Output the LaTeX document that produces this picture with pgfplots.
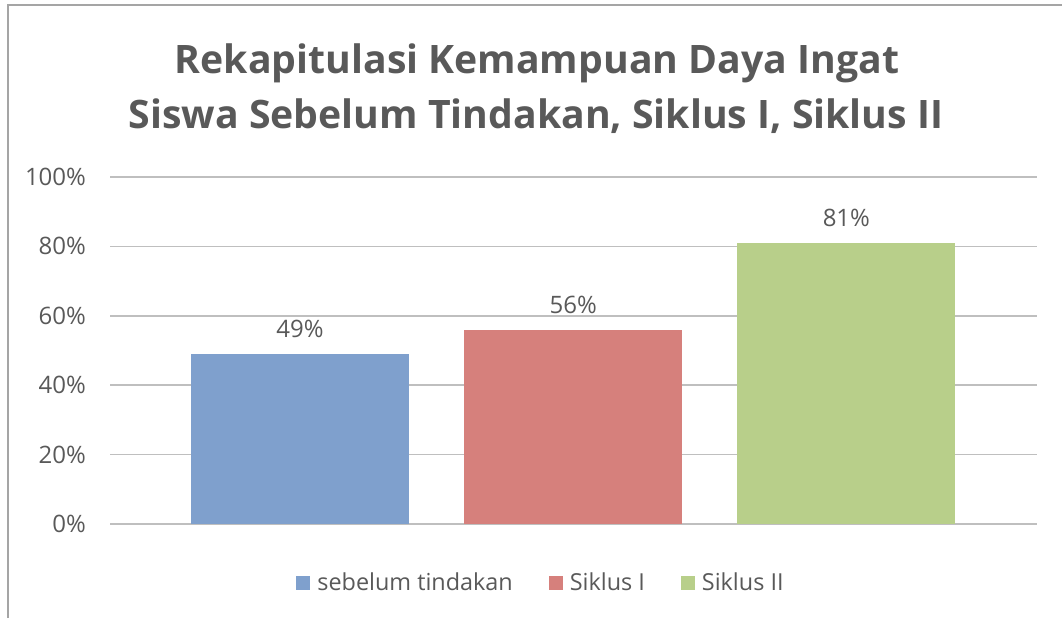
\documentclass[border=0pt]{standalone}
\usepackage{pgfplots}
\pgfplotsset{compat=1.18}
\usepackage{fontspec}
\setmainfont{Open Sans}
\definecolor{txt}{RGB}{89,89,89}
\definecolor{grid}{RGB}{191,191,191}
\definecolor{cblue}{RGB}{127,160,205}
\definecolor{cred}{RGB}{214,128,124}
\definecolor{cgreen}{RGB}{184,207,138}
\begin{document}
\begin{tikzpicture}
\path[use as bounding box] (0,0) rectangle (531pt,309pt);
\draw[color={rgb,255:red,165;green,165;blue,165}, line width=1pt] (4pt,0pt) -- (4pt,306.5pt) -- (531pt,306.5pt);
\node[anchor=base, text=txt, font=\fontsize{19.6}{24}\selectfont\bfseries, inner sep=0pt] at (268.5pt,272.5pt) {Rekapitulasi Kemampuan Daya Ingat};
\node[anchor=base, text=txt, font=\fontsize{19.6}{24}\selectfont\bfseries, inner sep=0pt] at (268pt,245pt) {Siswa Sebelum Tindakan, Siklus I, Siklus II};
\begin{axis}[
  at={(55pt,47pt)}, anchor=south west,
  scale only axis, width=463.5pt, height=173.5pt,
  xmin=-0.696, xmax=2.698, ymin=0, ymax=100,
  xtick=\empty,
  ytick={0,20,40,60,80,100},
  yticklabel={\pgfmathprintnumber{\tick}\%},
  /pgf/number format/assume math mode=true,
  yticklabel style={font=\fontsize{12}{14}\selectfont, text=txt, xshift=-8.5pt},
  ymajorgrids, grid style={grid, line width=0.75pt},
  major tick length=0pt,
  axis x line*=bottom, axis y line*=left,
  x axis line style={grid, line width=0.75pt, -},
  y axis line style={draw=none},
  ybar, bar width=109pt,
  nodes near coords={\pgfmathprintnumber{\pgfplotspointmeta}\%},
  nodes near coords style={font=\fontsize{12}{14}\selectfont, text=txt, yshift=4.5pt},
  legend columns=-1,
  legend style={draw=none, at={(0.466,-0.17)}, anchor=center, font=\fontsize{11.7}{14}\selectfont, text=txt,
    /tikz/every even column/.append style={column sep=16pt},
    /tikz/every odd column/.append style={column sep=1.5pt}},
  legend image code/.code={\fill[#1] (0pt,-3.5pt) rectangle (7pt,3.5pt);},
]
\addplot[fill=cblue, draw=none, bar shift=0pt] coordinates {(0,49)};
\addplot[fill=cred, draw=none, bar shift=0pt] coordinates {(1,56)};
\addplot[fill=cgreen, draw=none, bar shift=0pt] coordinates {(2,81)};
\legend{sebelum tindakan, Siklus I, Siklus II}
\end{axis}
\end{tikzpicture}
\end{document}
